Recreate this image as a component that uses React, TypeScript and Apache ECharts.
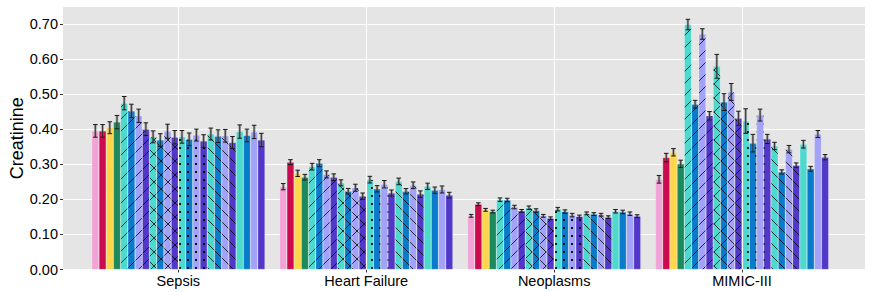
import React, { useEffect, useRef } from "react";
import * as echarts from "echarts";

const categories = ["Sepsis", "Heart Failure", "Neoplasms", "MIMIC-III"];

const sepsisMeans = [0.395, 0.395, 0.404, 0.42, 0.474, 0.452, 0.438, 0.4, 0.378, 0.369, 0.394, 0.377, 0.378, 0.371, 0.383, 0.366, 0.386, 0.38, 0.381, 0.362, 0.393, 0.382, 0.392, 0.369];
const sepsisErrs = [0.018, 0.018, 0.017, 0.019, 0.019, 0.019, 0.019, 0.018, 0.017, 0.018, 0.02, 0.019, 0.018, 0.018, 0.017, 0.018, 0.017, 0.018, 0.018, 0.017, 0.019, 0.018, 0.019, 0.019];

const heartFailureMeans = [0.236, 0.306, 0.274, 0.263, 0.293, 0.303, 0.271, 0.263, 0.247, 0.223, 0.233, 0.209, 0.256, 0.23, 0.243, 0.218, 0.251, 0.223, 0.24, 0.215, 0.237, 0.226, 0.228, 0.212];
const heartFailureErrs = [0.009, 0.007, 0.009, 0.008, 0.0095, 0.01, 0.01, 0.0095, 0.0086, 0.008, 0.01, 0.009, 0.0095, 0.009, 0.0105, 0.0086, 0.0095, 0.0076, 0.0095, 0.009, 0.009, 0.009, 0.01, 0.008];

const neoplasmsMeans = [0.153, 0.186, 0.17, 0.165, 0.199, 0.198, 0.178, 0.167, 0.176, 0.168, 0.153, 0.146, 0.172, 0.165, 0.155, 0.151, 0.16, 0.158, 0.156, 0.149, 0.166, 0.164, 0.159, 0.152];
const neoplasmsErrs = [0.004, 0.004, 0.004, 0.004, 0.005, 0.005, 0.005, 0.004, 0.005, 0.005, 0.004, 0.004, 0.005, 0.005, 0.005, 0.004, 0.004, 0.004, 0.004, 0.004, 0.005, 0.005, 0.005, 0.004];

const mimicMeans = [0.257, 0.319, 0.334, 0.301, 0.698, 0.471, 0.671, 0.438, 0.579, 0.477, 0.506, 0.431, 0.423, 0.36, 0.44, 0.372, 0.352, 0.278, 0.343, 0.297, 0.357, 0.287, 0.386, 0.32];
const mimicErrs = [0.011, 0.012, 0.0105, 0.0105, 0.015, 0.011, 0.015, 0.012, 0.034, 0.024, 0.024, 0.02, 0.035, 0.025, 0.017, 0.013, 0.0105, 0.006, 0.0105, 0.0067, 0.011, 0.007, 0.01, 0.0076];

const yTicks = [0, 0.1, 0.2, 0.3, 0.4, 0.5, 0.6, 0.7];

const seriesColors = [
  "#F2A3D6", "#CC0A4E", "#FFD54A", "#1C8A5C",
  "#4DD9CE", "#0A7BCB", "#A2A2F8", "#5238C8",
  "#4DD9CE", "#0A7BCB", "#A2A2F8", "#5238C8",
  "#4DD9CE", "#0A7BCB", "#A2A2F8", "#5238C8",
  "#4DD9CE", "#0A7BCB", "#A2A2F8", "#5238C8",
  "#4DD9CE", "#0A7BCB", "#A2A2F8", "#5238C8",
];
const seriesPatterns = [
  "none", "none", "none", "none",
  "slash", "slash", "slash", "slash",
  "cross", "cross", "cross", "cross",
  "dots", "dots", "dots", "dots",
  "back", "back", "back", "back",
  "none", "none", "none", "none",
];

const meansByCat = [sepsisMeans, heartFailureMeans, neoplasmsMeans, mimicMeans];
const errsByCat = [sepsisErrs, heartFailureErrs, neoplasmsErrs, mimicErrs];

const CAT_GAP = 0.078;
const FONT = "'Liberation Sans', Arial, sans-serif";

function makePattern(color: string, kind: string): any {
  if (kind === "none") return color;
  const s = kind === "dots" ? 8 : kind === "cross" ? 14 : 12;
  const c = document.createElement("canvas");
  c.width = s;
  c.height = s;
  const ctx = c.getContext("2d")!;
  ctx.fillStyle = color;
  ctx.fillRect(0, 0, s, s);
  ctx.strokeStyle = "rgba(0,0,0,0.85)";
  ctx.lineWidth = 0.9;
  if (kind === "slash" || kind === "cross") {
    for (let k = -1; k <= 1; k++) {
      ctx.beginPath();
      ctx.moveTo(k * s, s);
      ctx.lineTo(k * s + s, 0);
      ctx.stroke();
    }
  }
  if (kind === "back" || kind === "cross") {
    for (let k = -1; k <= 1; k++) {
      ctx.beginPath();
      ctx.moveTo(k * s, 0);
      ctx.lineTo(k * s + s, s);
      ctx.stroke();
    }
  }
  if (kind === "dots") {
    ctx.fillStyle = "rgba(0,0,0,0.9)";
    ctx.fillRect(3, 3, 2, 2);
  }
  return { image: c.toDataURL(), repeat: "repeat", imageWidth: s, imageHeight: s };
}

export default function App() {
  const ref = useRef<HTMLDivElement>(null);
  useEffect(() => {
    if (!ref.current) return;
    const chart = echarts.init(ref.current, undefined, { renderer: "svg" });
    const n = seriesColors.length;
    const barSeries: any[] = [];
    for (let s = 0; s < n; s++) {
      barSeries.push({
        type: "bar",
        name: "S" + (s + 1),
        xAxisIndex: 1,
        yAxisIndex: 1,
        barGap: "0%",
        barCategoryGap: (CAT_GAP * 100).toFixed(1) + "%",
        data: meansByCat.map((arr) => arr[s]),
        itemStyle: {
          color: makePattern(seriesColors[s], seriesPatterns[s]),
          borderColor: "rgba(255,255,255,0.45)",
          borderWidth: 0.5,
        },
        z: 2,
      });
    }
    const errData: number[][] = [];
    for (let c = 0; c < categories.length; c++) {
      for (let s = 0; s < n; s++) {
        errData.push([c, s, meansByCat[c][s], errsByCat[c][s]]);
      }
    }
    const option: any = {
      animation: false,
      grid: [
        { left: 55, right: 7, top: 7, bottom: 22.5, show: true, backgroundColor: "#E5E5E5", borderWidth: 0 },
        { left: 84.4, width: 751.6, top: 7, bottom: 22.5 },
      ],
      xAxis: [
        { type: "value", gridIndex: 0, min: 0, max: 1, show: false },
        {
          type: "category",
          gridIndex: 1,
          data: categories,
          axisLine: { show: false },
          axisTick: { show: true, alignWithLabel: true, length: 3, lineStyle: { color: "#333" } },
          axisLabel: { color: "#000", fontSize: 14.5, fontFamily: FONT, margin: 4 },
          splitLine: { show: false },
        },
      ],
      yAxis: [
        {
          type: "value",
          gridIndex: 0,
          min: 0,
          max: 0.748,
          name: "Creatinine",
          nameLocation: "middle",
          nameGap: 37,
          nameMoveOverlap: false,
          nameTextStyle: { color: "#000", fontSize: 18, fontFamily: FONT },
          axisLine: { show: false },
          axisTick: { show: true, length: 3, lineStyle: { color: "#333" }, customValues: yTicks },
          axisLabel: {
            color: "#000",
            fontSize: 14.5,
            fontFamily: FONT,
            margin: 5,
            customValues: yTicks,
            formatter: (v: number) => v.toFixed(2),
          },
          splitLine: { show: true, lineStyle: { color: "#FFFFFF", width: 1.1 } },
        },
        { type: "value", gridIndex: 1, min: 0, max: 0.748, show: false },
      ],
      series: [
        {
          type: "line",
          xAxisIndex: 1,
          yAxisIndex: 1,
          data: [],
          z: 1,
          silent: true,
          markLine: {
            silent: true,
            symbol: "none",
            label: { show: false },
            lineStyle: { color: "#FFFFFF", width: 1.1, type: "solid" },
            data: categories.map((c) => ({ xAxis: c })),
          },
        },
        ...barSeries,
        {
          type: "custom",
          xAxisIndex: 1,
          yAxisIndex: 1,
          data: errData,
          encode: { x: 0, y: 2 },
          z: 5,
          silent: true,
          clip: false,
          renderItem: (params: any, api: any) => {
            const c = api.value(0);
            const s = api.value(1);
            const m = api.value(2);
            const e = api.value(3);
            const center = api.coord([c, m]);
            const bandW = api.size([1, 0])[0];
            const groupW = bandW * (1 - CAT_GAP);
            const barW = groupW / n;
            const x = center[0] - groupW / 2 + (s + 0.5) * barW;
            const yHi = api.coord([c, m + e])[1];
            const yLo = api.coord([c, m - e])[1];
            const cap = 2.3;
            return {
              type: "group",
              children: [
                { type: "line", shape: { x1: x, y1: yLo, x2: x, y2: yHi }, style: { stroke: "rgba(115,115,115,0.6)", lineWidth: 2.6 } },
                { type: "line", shape: { x1: x, y1: yLo, x2: x, y2: yHi }, style: { stroke: "#1a1a1a", lineWidth: 0.8 } },
                { type: "line", shape: { x1: x - cap, y1: yHi, x2: x + cap, y2: yHi }, style: { stroke: "#1a1a1a", lineWidth: 1 } },
                { type: "line", shape: { x1: x - cap, y1: yLo, x2: x + cap, y2: yLo }, style: { stroke: "#1a1a1a", lineWidth: 1 } },
              ],
            };
          },
        },
      ],
    };
    chart.setOption(option);
    return () => chart.dispose();
  }, []);
  return (
    <div
      ref={ref}
      style={{ position: "fixed", left: 0, top: 0, width: 872, height: 292, background: "#FFFFFF" }}
    />
  );
}
